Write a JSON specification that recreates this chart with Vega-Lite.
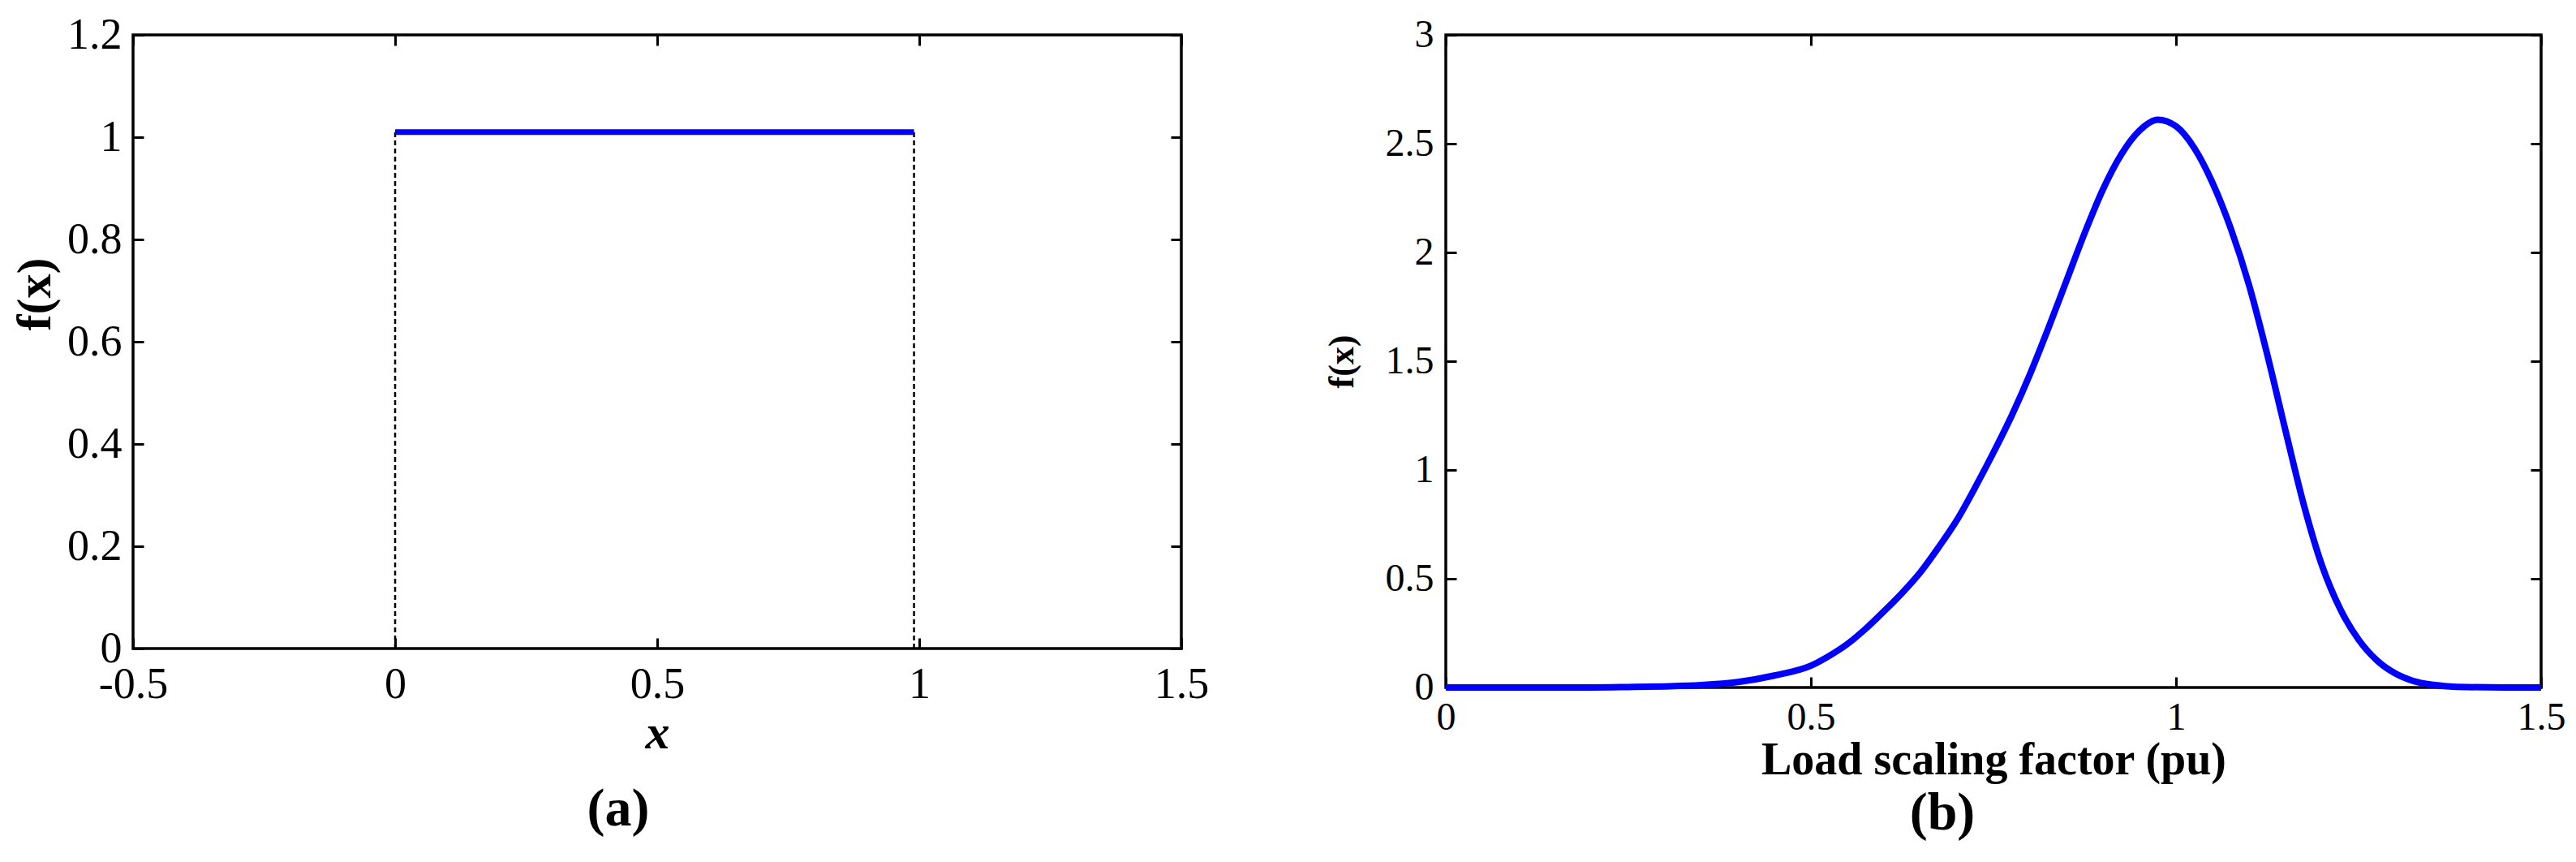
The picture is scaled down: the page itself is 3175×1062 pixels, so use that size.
{
  "$schema": "https://vega.github.io/schema/vega-lite/v6.json",
  "background": "white",
  "padding": {"left": 11, "top": 14, "right": 5, "bottom": 5},
  "spacing": 326,
  "bounds": "flush",
  "datasets": {
    "uniform": [{"x": 0, "y": 1.01}, {"x": 0.99, "y": 1.01}],
    "edges": [{"x": 0, "y": 0, "y2": 1.01}, {"x": 0.99, "y": 0, "y2": 1.01}],
    "load": [
      {"x": 0, "y": 0}, {"x": 0.1, "y": 0}, {"x": 0.2, "y": 0}, {"x": 0.25, "y": 0.002},
      {"x": 0.3, "y": 0.005}, {"x": 0.35, "y": 0.011}, {"x": 0.4, "y": 0.025}, {"x": 0.45, "y": 0.055},
      {"x": 0.5, "y": 0.1}, {"x": 0.525, "y": 0.145}, {"x": 0.55, "y": 0.2}, {"x": 0.575, "y": 0.27},
      {"x": 0.6, "y": 0.35}, {"x": 0.625, "y": 0.435}, {"x": 0.65, "y": 0.53}, {"x": 0.675, "y": 0.645},
      {"x": 0.7, "y": 0.77}, {"x": 0.725, "y": 0.92}, {"x": 0.75, "y": 1.08}, {"x": 0.775, "y": 1.25},
      {"x": 0.8, "y": 1.44}, {"x": 0.825, "y": 1.65}, {"x": 0.85, "y": 1.87}, {"x": 0.875, "y": 2.09},
      {"x": 0.9, "y": 2.29}, {"x": 0.925, "y": 2.45}, {"x": 0.95, "y": 2.56}, {"x": 0.975, "y": 2.61},
      {"x": 1.0, "y": 2.58}, {"x": 1.025, "y": 2.48}, {"x": 1.05, "y": 2.32}, {"x": 1.075, "y": 2.11},
      {"x": 1.1, "y": 1.85}, {"x": 1.125, "y": 1.53}, {"x": 1.15, "y": 1.18}, {"x": 1.175, "y": 0.84},
      {"x": 1.2, "y": 0.56}, {"x": 1.225, "y": 0.36}, {"x": 1.25, "y": 0.22}, {"x": 1.275, "y": 0.125},
      {"x": 1.3, "y": 0.065}, {"x": 1.325, "y": 0.03}, {"x": 1.35, "y": 0.013}, {"x": 1.375, "y": 0.005},
      {"x": 1.4, "y": 0.002}, {"x": 1.45, "y": 0}, {"x": 1.5, "y": 0}
    ]
  },
  "config": {
    "font": "Liberation Serif",
    "view": {"stroke": "black", "strokeWidth": 3.5},
    "axis": {
      "domain": false, "grid": false, "ticks": true, "tickSize": -13, "tickWidth": 3,
      "tickColor": "black", "labelColor": "black", "labelFont": "Liberation Serif",
      "titleFont": "Liberation Serif", "titleColor": "black", "labelFlush": false,
      "labelOverlap": false, "labelBound": false
    },
    "title": {"font": "Liberation Serif", "color": "black"}
  },
  "hconcat": [
    {
      "width": 1292,
      "height": 756,
      "title": {"text": "(a)", "orient": "bottom", "anchor": "middle", "dx": -48, "fontSize": 66, "fontWeight": "bold", "offset": 32},
      "layer": [
        {
          "data": {"name": "edges"},
          "mark": {"type": "rule", "color": "black", "strokeWidth": 2.5, "strokeDash": [6, 4]},
          "encoding": {
            "x": {
              "field": "x", "type": "quantitative",
              "scale": {"domain": [-0.5, 1.5], "nice": false, "zero": false},
              "axis": {
                "orient": "bottom", "values": [-0.5, 0, 0.5, 1, 1.5], "labelExpr": "'' + datum.value",
                "labelFontSize": 54, "labelPadding": 30,
                "title": "x", "titleFontSize": 60, "titleFontWeight": "bold", "titleFontStyle": "italic",
                "titleY": 122, "titleBaseline": "alphabetic"
              }
            },
            "y": {
              "field": "y", "type": "quantitative",
              "scale": {"domain": [0, 1.2], "nice": false, "zero": false},
              "axis": {
                "orient": "left", "values": [0, 0.2, 0.4, 0.6, 0.8, 1, 1.2], "labelExpr": "'' + datum.value",
                "labelFontSize": 54, "labelPadding": 27,
                "title": "f(x)", "titleFontSize": 60, "titleFontWeight": "bold",
                "titleX": -121, "titleY": 319, "titleBaseline": "middle", "titleAlign": "center", "titleAngle": -90
              }
            },
            "y2": {"field": "y2"}
          }
        },
        {
          "data": {"name": "uniform"},
          "mark": {"type": "line", "color": "#0000FF", "strokeWidth": 7},
          "encoding": {
            "x": {"field": "x", "type": "quantitative",
              "axis": {"orient": "top", "values": [-0.5, 0, 0.5, 1, 1.5], "labels": false, "title": null}},
            "y": {"field": "y", "type": "quantitative",
              "axis": {"orient": "right", "values": [0, 0.2, 0.4, 0.6, 0.8, 1, 1.2], "labels": false, "title": null}}
          }
        }
      ],
      "resolve": {"axis": {"x": "independent", "y": "independent"}}
    },
    {
      "width": 1350,
      "height": 804,
      "title": {"text": "(b)", "orient": "bottom", "anchor": "middle", "dx": -63, "fontSize": 66, "fontWeight": "bold", "offset": 6},
      "layer": [
        {
          "data": {"name": "load"},
          "mark": {"type": "line", "color": "#0000FF", "strokeWidth": 8, "interpolate": "monotone"},
          "encoding": {
            "x": {
              "field": "x", "type": "quantitative",
              "scale": {"domain": [0, 1.5], "nice": false, "zero": false},
              "axis": {
                "orient": "bottom", "values": [0, 0.5, 1, 1.5], "labelExpr": "'' + datum.value",
                "labelFontSize": 48, "labelPadding": 26,
                "title": "Load scaling factor (pu)", "titleFontSize": 56, "titleFontWeight": "bold",
                "titleY": 106, "titleBaseline": "alphabetic"
              }
            },
            "y": {
              "field": "y", "type": "quantitative",
              "scale": {"domain": [0, 3], "nice": false, "zero": false},
              "axis": {
                "orient": "left", "values": [0, 0.5, 1, 1.5, 2, 2.5, 3], "labelExpr": "'' + datum.value",
                "labelFontSize": 48, "labelPadding": 28,
                "title": "f(x)", "titleFontSize": 44, "titleFontWeight": "bold",
                "titleX": -128, "titleY": 402, "titleBaseline": "middle", "titleAlign": "center", "titleAngle": -90
              }
            }
          }
        },
        {
          "data": {"name": "load"},
          "mark": {"type": "point", "opacity": 0},
          "encoding": {
            "x": {"field": "x", "type": "quantitative",
              "axis": {"orient": "top", "values": [0, 0.5, 1, 1.5], "labels": false, "title": null}},
            "y": {"field": "y", "type": "quantitative",
              "axis": {"orient": "right", "values": [0, 0.5, 1, 1.5, 2, 2.5, 3], "labels": false, "title": null}}
          }
        }
      ],
      "resolve": {"axis": {"x": "independent", "y": "independent"}}
    }
  ]
}
